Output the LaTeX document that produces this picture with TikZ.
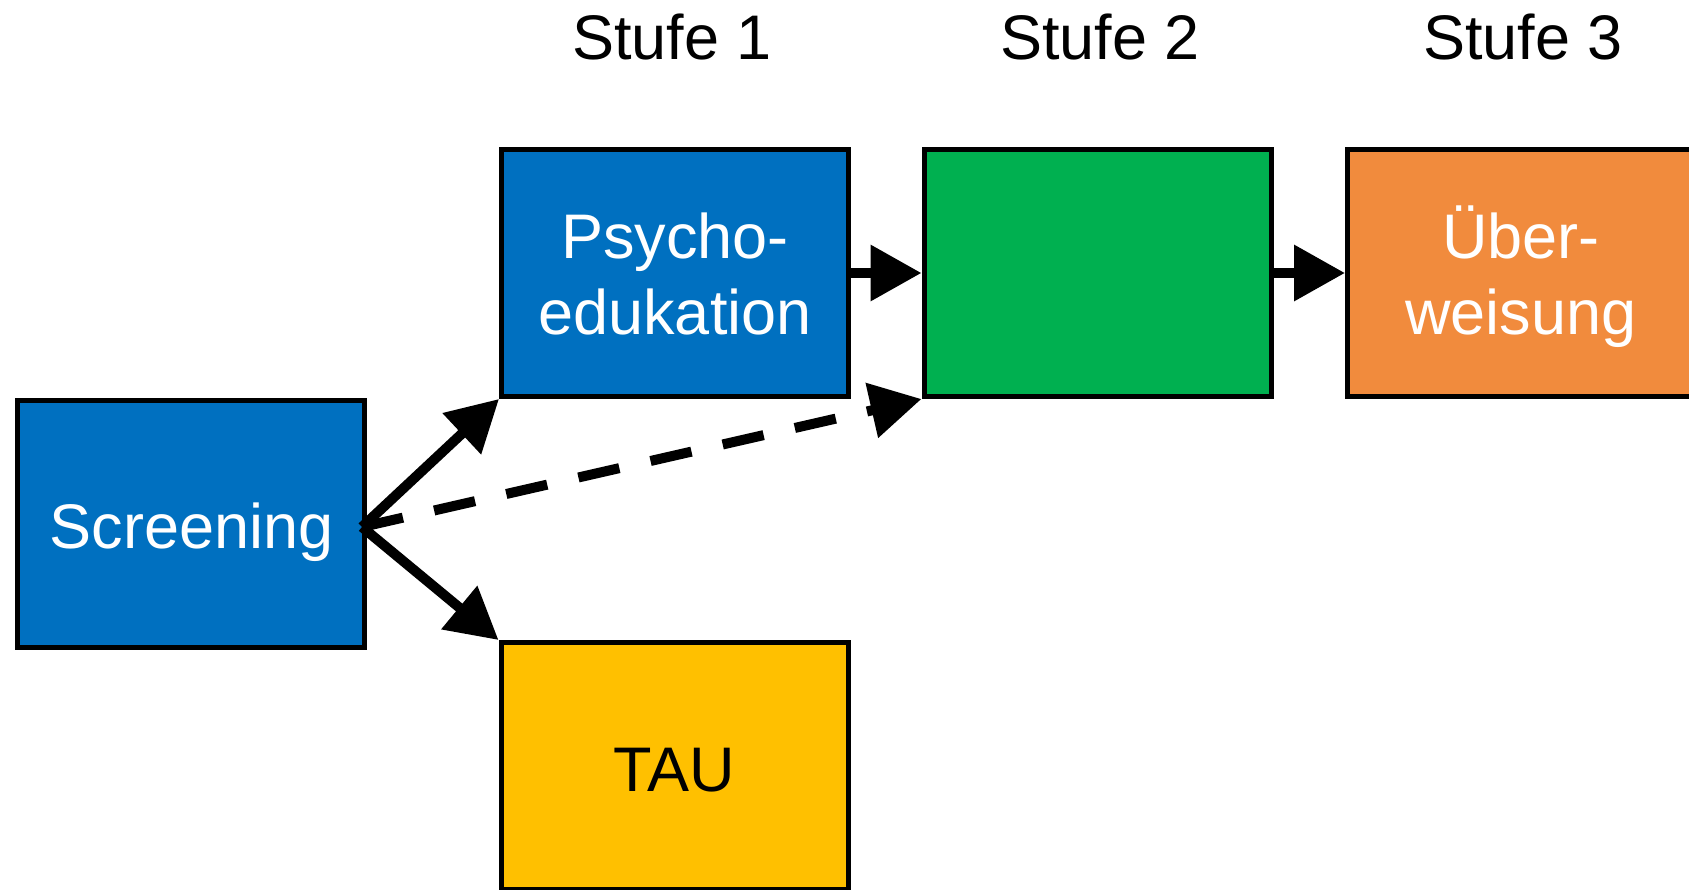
\documentclass[tikz,border=0pt]{standalone}
\usepackage{fontspec}
\setmainfont{Liberation Sans}
\usetikzlibrary{arrows.meta}
\definecolor{cblue}{HTML}{0070C0}
\definecolor{cgreen}{HTML}{00B050}
\definecolor{corange}{HTML}{F18B3D}
\definecolor{cyellow}{HTML}{FFC000}
\begin{document}
\begin{tikzpicture}[x=1pt,y=-1pt,
  box/.style={draw=black, line width=5pt, minimum width=347pt, minimum height=247pt, inner sep=0pt, outer sep=2.5pt},
  txt/.style={anchor=base, inner sep=0pt, font=\fontsize{63pt}{76pt}\selectfont},
  wtxt/.style={txt, text=white},
  conn/.style={line width=10pt, -{Triangle[length=51pt,width=54pt]}},
  dconn/.style={conn, dash pattern=on 42pt off 32pt}
]
\useasboundingbox (0,0) rectangle (1689,890);
% boxes
\node[box, fill=cblue] (scr) at (191,524) {};
\node[box, fill=cblue] (psy) at (675,273) {};
\node[box, fill=cgreen] (grn) at (1097.5,273) {};
\node[box, fill=corange] (ueb) at (1521,273) {};
\node[box, fill=cyellow] (tau) at (674.5,766) {};
% texts
\node[txt] (st1) at (672,60) {Stufe 1};
\node[txt] (st2) at (1100,60) {Stufe 2};
\node[txt] (st3) at (1523,60) {Stufe 3};
\node[wtxt] (scrT) at (191.5,548) {Screening};
\node[wtxt] (psyT1) at (675,259) {Psycho-};
\node[wtxt] (psyT2) at (675,335) {edukation};
\node[wtxt] (uebT1) at (1521,259) {Über-};
\node[wtxt] (uebT2) at (1521,335) {weisung};
\node[txt] (tauT) at (674.5,791) {TAU};
% connectors
\coordinate (s) at (362,527);
\draw[conn] (psy.east) -- (grn.west);
\draw[conn] (grn.east) -- (ueb.west);
\draw[conn] (s) -- (psy.south west);
\draw[conn] (s) -- (tau.north west);
\draw[dconn] (s) -- (grn.south west);
\end{tikzpicture}
\end{document}
